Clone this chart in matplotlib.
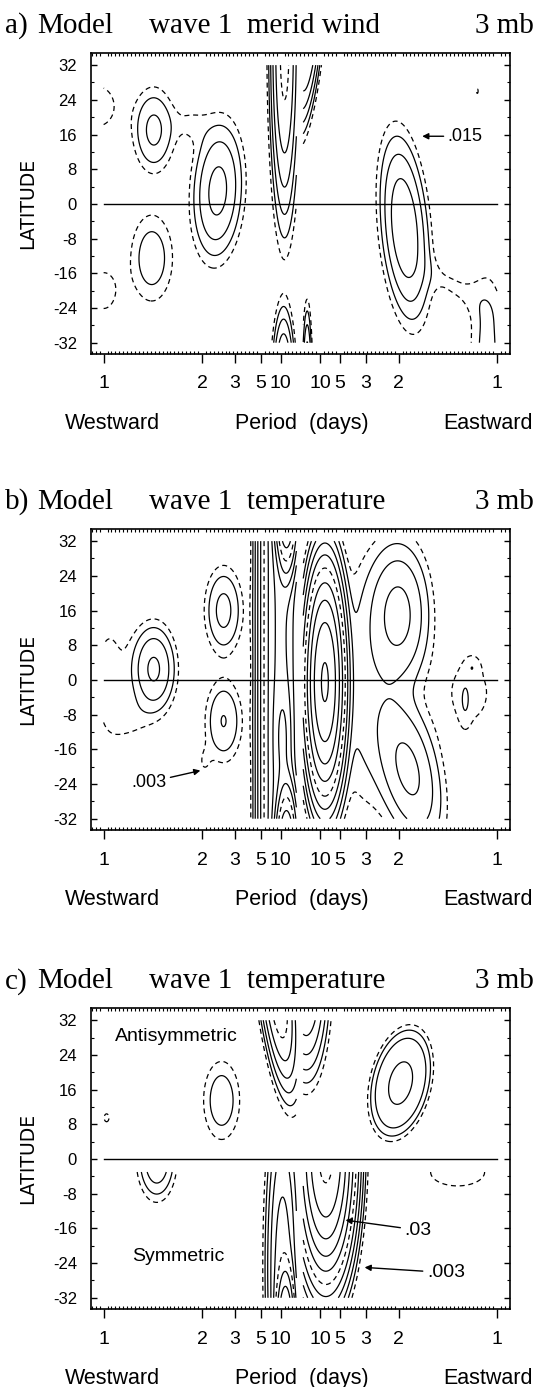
import matplotlib.pyplot as plt
import numpy as np
from matplotlib.transforms import blended_transform_factory

plt.rcParams['font.family'] = 'Liberation Sans'
plt.rcParams['lines.dashed_pattern'] = [4.0, 3.0]

# x axis is frequency (cycles/day), westward negative, labelled by period
period_ticks = [-1, -1/2, -1/3, -1/5, -1/10, 1/10, 1/5, 1/3, 1/2, 1]
period_labels = ['1', '2', '3', '5', '10', '10', '5', '3', '2', '1']
lat_ticks = [-32, -24, -16, -8, 0, 8, 16, 24, 32]

# spectral peaks:
# centre freq, centre lat, width in freq, width in lat, amplitude (in units of
# the lowest contour), tilt (freq shift per degree lat), peak flatness
a_freq = [-1.03, -0.745, -0.42, -0.56, -0.08, -0.085, -1.0, -0.755,
          0.045, 0.035, 0.53, 0.95, 0.78, 0.9]
a_lat = [22.5, 17, 3.0, 18.5, 36, -42, -20, -12.5,
         40, -44, -5.5, -34, -19, 26]
a_wf = [0.10, 0.06, 0.067, 0.07, 0.033, 0.027, 0.07, 0.07,
        0.03, 0.012, 0.06, 0.06, 0.09, 0.008]
a_wl = [5.5, 5.6, 8.3, 3.5, 17.9, 8.1, 5, 6.6,
        9.9, 9, 10.7, 12, 4.5, 1.0]
a_amp = [1.4, 4.8, 10, 1.05, 40, 24, 1.4, 3.06,
         43, 20, 14, 2.5, 1.1, 1.15]
a_tilt = [0, 0, 0.001, 0, 0, 0, 0, 0,
          0.002, 0, -0.0018, 0, -0.02, 0]
a_shape = [1] * 14
a_part = ['all'] * 14

b_freq = [-0.97, -0.85, -0.745, -0.39, -0.39, -0.49, -0.1, -0.07, -0.07, -0.088,
          0.125, 0.5, 0.55, 0.33, 0.86, 0.875, 0.838]
b_lat = [0, -9, 2.5, 16, -9.5, -19, 0, 45, -45, -13,
         -0.5, 15, -20.8, -2, -3, 3, -5]
b_wf = [0.08, 0.07, 0.06, 0.055, 0.056, 0.03, 0.048, 0.025, 0.025, 0.025,
        0.043, 0.085, 0.085, 0.1, 0.12, 0.024, 0.02]
b_wl = [13, 3.5, 5.5, 5.8, 5.7, 3, 200, 8, 8.1, 7,
        11, 9, 9.5, 18, 8, 1.6, 3.9]
b_amp = [1.3, 0.9, 9, 5, 4.1, 0.9, 150, 10000, 10350, 160,
         556, 10, 9.5, 2.5, 1.3, 1.0, 1.0]
b_tilt = [0, 0, 0, 0, 0, 0, 0, 0, 0, 0,
          0, 0, -0.004, 0, 0, 0, 0]
b_shape = [1] * 17
b_part = ['all'] * 17

# panel c: 'A' = antisymmetric part (north), 'S' = symmetric part (south)
c_freq = [-0.4, -0.12, -0.985, 0.03, 0.51,
          -0.73, -0.09, -0.075, 0.13, 0.8]
c_lat = [13.5, 40, 9.5, 42, 17.5,
         0, -25, -42, 2, -3]
c_wf = [0.06, 0.04, 0.02, 0.05, 0.112,
        0.052, 0.04, 0.022, 0.057, 0.15]
c_wl = [5.9, 10.6, 1.5, 10, 9.4,
        5, 18, 7.26, 11.4, 3.5]
c_amp = [3.2, 61, 1.2, 40, 8.3,
         7.4, 24, 483, 1270, 1.52]
c_tilt = [0, -0.0025, 0, 0, 0.0036,
          0, 0, 0, 0, 0]
c_shape = [1, 1, 1, 1, 2,
           1, 1, 1, 1, 1]
c_part = ['A', 'A', 'A', 'A', 'A',
          'S', 'S', 'S', 'S', 'S']

base_a = 0.015
base_b = 0.003
base_c = 0.003


def power(F, L, peaks):
    Z = np.zeros_like(F)
    for f0, l0, wf, wl, amp, tilt, shape in peaks:
        dx = (F - f0 - tilt * (L - l0)) / wf
        dy = (L - l0) / wl
        Z += amp * np.exp(-0.5 * (dx ** 2 + dy ** 2) ** shape)
    return Z


def draw_panel(ax, peaks, base, strips):
    nlev = 14
    levels = base * 2.0 ** np.arange(nlev)
    styles = ['dashed' if k % 5 == 0 else 'solid' for k in range(nlev)]
    for f_lo, f_hi in [(-1.0, -0.02), (0.015, 1.0)]:
        for l_lo, l_hi, part in strips:
            F, L = np.meshgrid(np.linspace(f_lo, f_hi, 500),
                               np.linspace(l_lo, l_hi, 320))
            sel = [p[:7] for p in peaks
                   if (p[0] < 0) == (f_lo < 0) and p[7] == part]
            if not sel:
                continue
            Z = base * power(F, L, sel)
            if Z.max() < levels[0]:
                continue
            ax.contour(F, L, Z, levels=levels, colors='k',
                       linewidths=0.9, linestyles=styles)
    ax.plot([-1, 1], [0, 0], color='k', lw=1.0)


def style_axes(ax, title, tag):
    ax.set_xlim(-1.065, 1.065)
    ax.set_ylim(-34.6, 34.8)
    ax.set_xticks(period_ticks)
    ax.set_xticklabels(period_labels)
    ax.set_xticks(np.arange(-53, 54) * 0.02, minor=True)
    ax.set_yticks(lat_ticks)
    ax.set_yticklabels([str(v) for v in lat_ticks])
    ax.set_yticks(np.arange(-32, 33, 4), minor=True)
    ax.tick_params(axis='x', which='major', direction='out', length=6.5,
                   width=1, top=False, bottom=True, labelsize=14, pad=9)
    ax.tick_params(axis='x', which='minor', direction='in', length=2.5,
                   width=0.8, top=True, bottom=True)
    ax.tick_params(axis='y', which='major', direction='in', length=4.5,
                   width=1, left=True, right=True, labelsize=12, pad=10)
    ax.tick_params(axis='y', which='minor', direction='in', length=2.2,
                   width=0.8, left=True, right=True)
    for s in ax.spines.values():
        s.set_linewidth(1.2)
    ax.text(-0.15, 0.5, 'LATITUDE', transform=ax.transAxes, rotation=90,
            ha='center', va='center', fontsize=13.5, family='DejaVu Sans')
    tr = blended_transform_factory(ax.transData, ax.transAxes)
    ax.text(-0.955, -0.23, 'Westward', transform=tr, ha='center',
            va='center', fontsize=15.5)
    ax.text(0.01, -0.23, 'Period  (days)', transform=tr, ha='center',
            va='center', fontsize=15.5)
    ax.text(0.955, -0.23, 'Eastward', transform=tr, ha='center',
            va='center', fontsize=15.5)
    serif = dict(transform=ax.transAxes, va='baseline', fontsize=21,
                 family='Liberation Serif')
    ax.text(-0.205, 1.066, tag, ha='left', **serif)
    ax.text(-0.127, 1.066, 'Model', ha='left', **serif)
    ax.text(0.14, 1.066, title, ha='left', **serif)
    ax.text(1.057, 1.066, '3 mb', ha='right', **serif)


arrow = dict(arrowstyle='-|>', lw=1.0, color='k', shrinkA=1, shrinkB=0,
             mutation_scale=9)

fig = plt.figure(figsize=(5.44, 13.87), dpi=100)

ax_a = fig.add_axes([0.167, 0.7448, 0.77, 0.217])
peaks_a = list(zip(a_freq, a_lat, a_wf, a_wl, a_amp, a_tilt, a_shape, a_part))
draw_panel(ax_a, peaks_a, base_a, [(-32, 32, 'all')])
style_axes(ax_a, 'wave 1  merid wind', 'a)')
ax_a.annotate('.015', xy=(0.62, 15.6), xytext=(0.75, 15.6), fontsize=13,
              ha='left', va='center', arrowprops=arrow)

ax_b = fig.add_axes([0.167, 0.4016, 0.77, 0.217])
peaks_b = list(zip(b_freq, b_lat, b_wf, b_wl, b_amp, b_tilt, b_shape, b_part))
draw_panel(ax_b, peaks_b, base_b, [(-32, 32, 'all')])
style_axes(ax_b, 'wave 1  temperature', 'b)')
ax_b.annotate('.003', xy=(-0.508, -20.9), xytext=(-0.86, -23.6), fontsize=13,
              ha='left', va='center', arrowprops=arrow)

ax_c = fig.add_axes([0.167, 0.0562, 0.77, 0.217])
peaks_c = list(zip(c_freq, c_lat, c_wf, c_wl, c_amp, c_tilt, c_shape, c_part))
draw_panel(ax_c, peaks_c, base_c, [(3, 32, 'A'), (-32, -3, 'S')])
style_axes(ax_c, 'wave 1  temperature', 'c)')
ax_c.text(-0.94, 28.3, 'Antisymmetric', fontsize=14, ha='left', va='center')
ax_c.text(-0.856, -22.5, 'Symmetric', fontsize=14, ha='left', va='center')
ax_c.annotate('.03', xy=(0.23, -14.1), xytext=(0.53, -16.4), fontsize=14,
              ha='left', va='center', arrowprops=arrow)
ax_c.annotate('.003', xy=(0.327, -25.0), xytext=(0.644, -26.2), fontsize=14,
              ha='left', va='center', arrowprops=arrow)

fig.savefig('out.png', dpi=100)
